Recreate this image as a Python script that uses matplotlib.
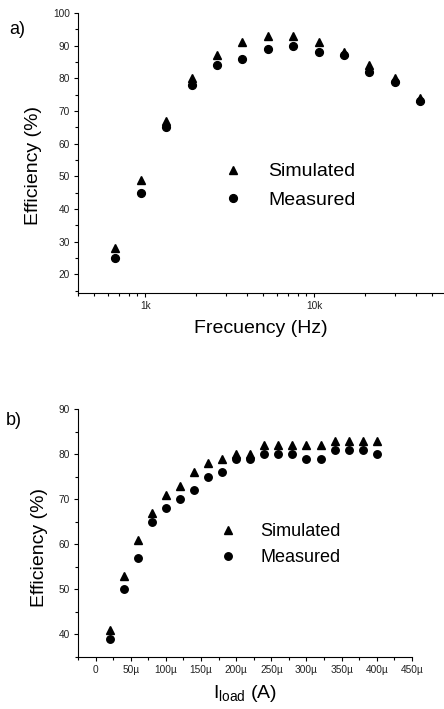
import numpy as np
import matplotlib
matplotlib.use('Agg')
import matplotlib.pyplot as plt
from matplotlib.ticker import FixedLocator, LogLocator, MultipleLocator, FuncFormatter, NullFormatter

plt.rcParams['font.family'] = ['Liberation Sans', 'DejaVu Sans']
plt.rcParams['mathtext.default'] = 'regular'

# a) eficiencia vs frecuencia
frec_hz = [665, 940, 1330, 1880, 2660, 3760, 5320, 7520, 10640, 15050, 21280, 30100, 42560]
ef_sim_a = [28, 49, 67, 80, 87, 91, 93, 93, 91, 88, 84, 80, 74]
ef_med_a = [25, 45, 65, 78, 84, 86, 89, 90, 88, 87, 82, 79, 73]

# b) eficiencia vs corriente de carga
iload_ua = [20, 40, 60, 80, 100, 120, 140, 160, 180, 200, 220, 240, 260, 280, 300, 320, 340, 360, 380, 400]
ef_sim_b = [41, 53, 61, 67, 71, 73, 76, 78, 79, 80, 80, 82, 82, 82, 82, 82, 83, 83, 83, 83]
ef_med_b = [39, 50, 57, 65, 68, 70, 72, 75, 76, 79, 79, 80, 80, 80, 79, 79, 81, 81, 81, 80]

fig = plt.figure(figsize=(4.44, 7.09), dpi=100)
ax1 = fig.add_axes([0.1757, 0.5867, 0.822, 0.395])
ax2 = fig.add_axes([0.1757, 0.0738, 0.752, 0.349])


def estilo(ax):
    for s in ['top', 'right']:
        ax.spines[s].set_visible(False)
    for s in ['left', 'bottom']:
        ax.spines[s].set_linewidth(0.8)
    ax.tick_params(which='major', direction='out', length=3, width=0.8,
                   labelsize=7.3, pad=3.0, labelcolor='#222222')
    ax.tick_params(which='minor', direction='out', length=2, width=0.8)


# ---- panel a ----
ax1.plot(frec_hz, ef_sim_a, '^', color='black', ms=6.3, label='Simulated')
ax1.plot(frec_hz, ef_med_a, 'o', color='black', ms=5.6, label='Measured')
ax1.set_xscale('log')
ax1.set_xlim(400, 58000)
ax1.set_ylim(14.3, 100)
ax1.xaxis.set_major_locator(FixedLocator([1000, 10000]))
ax1.xaxis.set_major_formatter(FuncFormatter(lambda v, p: {1000: '1k', 10000: '10k'}.get(int(round(v)), '')))
ax1.xaxis.set_minor_locator(LogLocator(base=10, subs=np.arange(2, 10)))
ax1.xaxis.set_minor_formatter(NullFormatter())
ax1.yaxis.set_major_locator(MultipleLocator(10))
ax1.yaxis.set_minor_locator(MultipleLocator(5))
estilo(ax1)
ax1.set_ylabel('Efficiency (%)', fontsize=14)
ax1.yaxis.set_label_coords(-0.098, 0.454)
ax1.set_xlabel('Frecuency (Hz)', fontsize=14)
ax1.xaxis.set_label_coords(0.50, -0.096)
ax1.legend(loc='center left', bbox_to_anchor=(0.398, 0.382), frameon=False,
           fontsize=14, handlelength=1, handletextpad=1.3, labelspacing=0.58,
           borderpad=0, borderaxespad=0)
fig.text(0.020, 0.959, 'a)', fontsize=13, va='center', ha='left')

# ---- panel b ----
ax2.plot(np.array(iload_ua) * 1e-6, ef_sim_b, '^', color='black', ms=6, label='Simulated')
ax2.plot(np.array(iload_ua) * 1e-6, ef_med_b, 'o', color='black', ms=5.4, label='Measured')
ax2.set_xlim(-25e-6, 450e-6)
ax2.set_ylim(35, 90)
ax2.xaxis.set_major_locator(MultipleLocator(50e-6))
ax2.xaxis.set_minor_locator(MultipleLocator(25e-6))
ax2.xaxis.set_major_formatter(FuncFormatter(lambda v, p: '0' if abs(v) < 1e-9 else f'{int(round(v * 1e6))}\u00b5'))
ax2.yaxis.set_major_locator(MultipleLocator(10))
ax2.yaxis.set_minor_locator(MultipleLocator(5))
estilo(ax2)
ax2.set_ylabel('Efficiency (%)', fontsize=14)
ax2.yaxis.set_label_coords(-0.09, 0.443)
ax2.set_xlabel(r'I$_{load}$ (A)', fontsize=14)
ax2.xaxis.set_label_coords(0.50, -0.105)
ax2.legend(loc='center left', bbox_to_anchor=(0.421, 0.453), frameon=False,
           fontsize=13, handlelength=1, handletextpad=1.3, labelspacing=0.5,
           borderpad=0, borderaxespad=0)
fig.text(0.014, 0.4076, 'b)', fontsize=13, va='center', ha='left')

fig.savefig('out.png', dpi=100)
